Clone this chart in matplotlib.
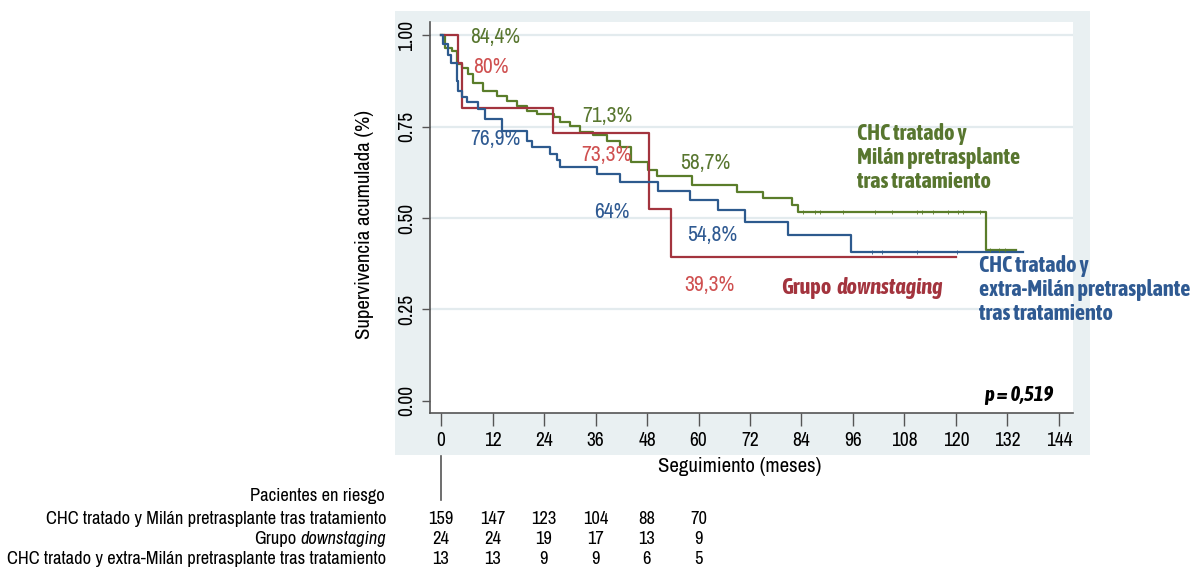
import matplotlib
matplotlib.use('Agg')
import matplotlib.pyplot as plt
from matplotlib.patches import Rectangle

# ---------------------------------------------------------------------------
# Data
# ---------------------------------------------------------------------------
# CHC tratado y Milán pretrasplante tras tratamiento (green)
t_milan = [0, 0.9, 2.5, 3.7, 4.8, 6.3, 7.5, 9.8, 13.0, 15.3, 17.6, 20.0, 22.3,
           26.2, 27.7, 30.0, 32.4, 35.5, 38.6, 41.7, 44.2, 48.3, 50.3, 58.5,
           69.0, 75.0, 81.7, 83.2, 127.0, 134.0]
s_milan = [1.0, 0.966, 0.957, 0.920, 0.911, 0.895, 0.870, 0.848, 0.834, 0.821,
           0.807, 0.793, 0.785, 0.776, 0.762, 0.753, 0.735, 0.726, 0.712, 0.694,
           0.652, 0.632, 0.615, 0.590, 0.571, 0.555, 0.535, 0.517, 0.413, 0.413]
cens_milan_t = [84.4, 87.2, 88.3, 93.7, 101.2, 105.1, 111.0, 112.1, 114.7,
                118.2, 120.5, 121.7, 125.6, 128.0, 130.0, 131.5]
cens_milan_s = [0.517] * 13 + [0.413] * 3

# Grupo downstaging (red)
t_down = [0, 4.0, 4.8, 26.0, 48.5, 53.6, 120.0]
s_down = [1.0, 0.925, 0.800, 0.733, 0.524, 0.393, 0.393]

# CHC tratado y extra-Milán pretrasplante tras tratamiento (blue)
t_extra = [0, 0.4, 1.5, 2.4, 3.6, 4.0, 4.8, 6.0, 8.7, 10.3, 14.1, 20.0, 21.1,
           25.4, 27.0, 27.7, 36.3, 41.7, 50.6, 58.0, 64.6, 70.9, 80.8, 95.6,
           135.7]
s_extra = [1.0, 0.975, 0.945, 0.925, 0.875, 0.848, 0.830, 0.816, 0.798, 0.771,
           0.739, 0.712, 0.694, 0.676, 0.658, 0.640, 0.621, 0.599, 0.575, 0.549,
           0.522, 0.490, 0.454, 0.408, 0.408]
cens_extra_t = [100.4, 102.7, 110.9, 120.2]
cens_extra_s = [0.408] * 4

# percentage annotations: (month, y position, text)
lab_milan = [(12.6, 0.995, '84,4%'), (38.8, 0.780, '71,3%'), (61.5, 0.650, '58,7%')]
lab_down = [(11.6, 0.913, '80%'), (38.5, 0.672, '73,3%'), (62.5, 0.317, '39,3%')]
lab_extra = [(12.6, 0.715, '76,9%'), (39.8, 0.516, '64%'), (63.2, 0.454, '54,8%')]

risk_times = [0, 12, 24, 36, 48, 60]
risk_milan = [159, 147, 123, 104, 88, 70]
risk_down = [24, 24, 19, 17, 13, 9]
risk_extra = [13, 13, 9, 9, 6, 5]

x_ticks = list(range(0, 145, 12))
y_ticks = [0.0, 0.25, 0.5, 0.75, 1.0]

# ---------------------------------------------------------------------------
GREEN = '#5a7d2a'
GREEN_TXT = '#58762f'
RED = '#a3343e'
RED_TXT = '#cf5050'
BLUE = '#2d5a8e'
BLUE_TXT = '#2f5a92'
PANEL = '#e9f0f2'
REG = ['Liberation Sans Narrow', 'Archivo Narrow', 'DejaVu Sans']
BOLD = ['Liberation Sans Narrow', 'Asap Condensed', 'DejaVu Sans']

plt.rcParams['font.family'] = REG

W, H = 1193, 570
fig = plt.figure(figsize=(W / 100, H / 100), dpi=100)


def fx(px):
    return px / W


def fy(py):
    return 1 - py / H


# light panel behind the plot region
fig.patches.append(Rectangle((fx(395), fy(455)), fx(1090) - fx(395),
                             fy(11) - fy(455), transform=fig.transFigure,
                             facecolor=PANEL, edgecolor='none', zorder=-5))

ax = fig.add_axes([fx(430), fy(413), fx(1073) - fx(430), fy(22) - fy(413)])
ax.set_facecolor('white')
ax.set_xlim(-2.6, 147.3)
ax.set_ylim(-0.033, 1.036)

for y in y_ticks[1:]:
    ax.axhline(y, color='#e3ebee', lw=1.6, zorder=1)

ax.step(t_milan, s_milan, where='post', color=GREEN, lw=1.6, zorder=3)
ax.step(t_down, s_down, where='post', color=RED, lw=1.6, zorder=3)
ax.step(t_extra, s_extra, where='post', color=BLUE, lw=1.6, zorder=3)
ax.plot(cens_milan_t, cens_milan_s, ls='none', marker='|', ms=3,
        mew=0.6, color=GREEN, zorder=3)
ax.plot(cens_extra_t, cens_extra_s, ls='none', marker='|', ms=3,
        mew=0.6, color=BLUE, zorder=3)

for labs, col in ((lab_milan, GREEN_TXT), (lab_down, RED_TXT),
                  (lab_extra, BLUE_TXT)):
    for t, y, txt in labs:
        ax.text(t, y, txt, color=col, fontsize=15.5, ha='center', va='center',
                zorder=4)

ax.text(97, 0.664, 'CHC tratado y\nMilán pretrasplante\ntras tratamiento',
        color=GREEN_TXT, fontsize=16, fontweight='bold', family=BOLD,
        ha='left', va='center', linespacing=1.13)
ax.text(125.3, 0.303, 'CHC tratado y\nextra-Milán pretrasplante\ntras tratamiento',
        color=BLUE_TXT, fontsize=16, fontweight='bold', family=BOLD,
        ha='left', va='center', linespacing=1.13, clip_on=False)
grp = ax.text(79.2, 0.310, 'Grupo', color=RED, fontsize=16, fontweight='bold',
              family=BOLD, ha='left', va='center')
ax.annotate('downstaging', xy=(1, 0.5), xycoords=grp, xytext=(4, 0),
            textcoords='offset points', color=RED, fontsize=16,
            fontweight='bold', fontstyle='italic', family=BOLD,
            ha='left', va='center')
ax.text(142.7, 0.017, 'p = 0,519', fontsize=15, fontweight='bold',
        fontstyle='italic', family=BOLD, ha='right', va='center')

ax.spines['top'].set_visible(False)
ax.spines['right'].set_visible(False)
for side in ('left', 'bottom'):
    ax.spines[side].set_color('#555555')
    ax.spines[side].set_linewidth(1.2)

ax.set_xticks(x_ticks)
ax.set_xticklabels([str(v) for v in x_ticks], fontsize=14)
ax.set_yticks(y_ticks)
ax.set_yticklabels([f'{v:.2f}' for v in y_ticks], rotation=90, va='center',
                   fontsize=14)
ax.tick_params(axis='x', length=9, width=1.0, color='#555555', pad=4)
ax.tick_params(axis='y', length=6, width=1.0, color='#555555', pad=4)
ax.set_xlabel('Seguimiento (meses)', fontsize=15)
ax.set_ylabel('Supervivencia acumulada (%)', fontsize=15)
ax.xaxis.set_label_coords(0.482, -0.112)
ax.yaxis.set_label_coords(-0.087, 0.483)

# ---------------------------------------------------------------------------
# Number-at-risk table (below the panel)
# ---------------------------------------------------------------------------
def tx(t):
    return fx(441 + 4.29 * t)


fig.add_artist(plt.Line2D([tx(0), tx(0)], [fy(456), fy(500)],
                          transform=fig.transFigure, color='#555555', lw=1.2))
fig.text(fx(385), fy(496), 'Pacientes en riesgo', ha='right', va='center',
         fontsize=13.3)
row_y = [519, 539, 559]
fig.text(fx(386), fy(row_y[0]),
         'CHC tratado y Milán pretrasplante tras tratamiento',
         ha='right', va='center', fontsize=13.3)
dwn = fig.text(fx(386), fy(row_y[1]), 'downstaging', ha='right', va='center',
               fontsize=13.3, fontstyle='italic')
fig.add_artist(plt.Annotation('Grupo', xy=(0, 0.5), xycoords=dwn,
                              xytext=(-3, 0), textcoords='offset points',
                              ha='right', va='center', fontsize=13.3))
fig.text(fx(386), fy(row_y[2]),
         'CHC tratado y extra-Milán pretrasplante tras tratamiento',
         ha='right', va='center', fontsize=13.3)
for yy, vals in zip(row_y, (risk_milan, risk_down, risk_extra)):
    for t, v in zip(risk_times, vals):
        fig.text(tx(t), fy(yy), str(v), ha='center', va='center',
                 fontsize=13.3)

fig.savefig('out.png', dpi=100)
